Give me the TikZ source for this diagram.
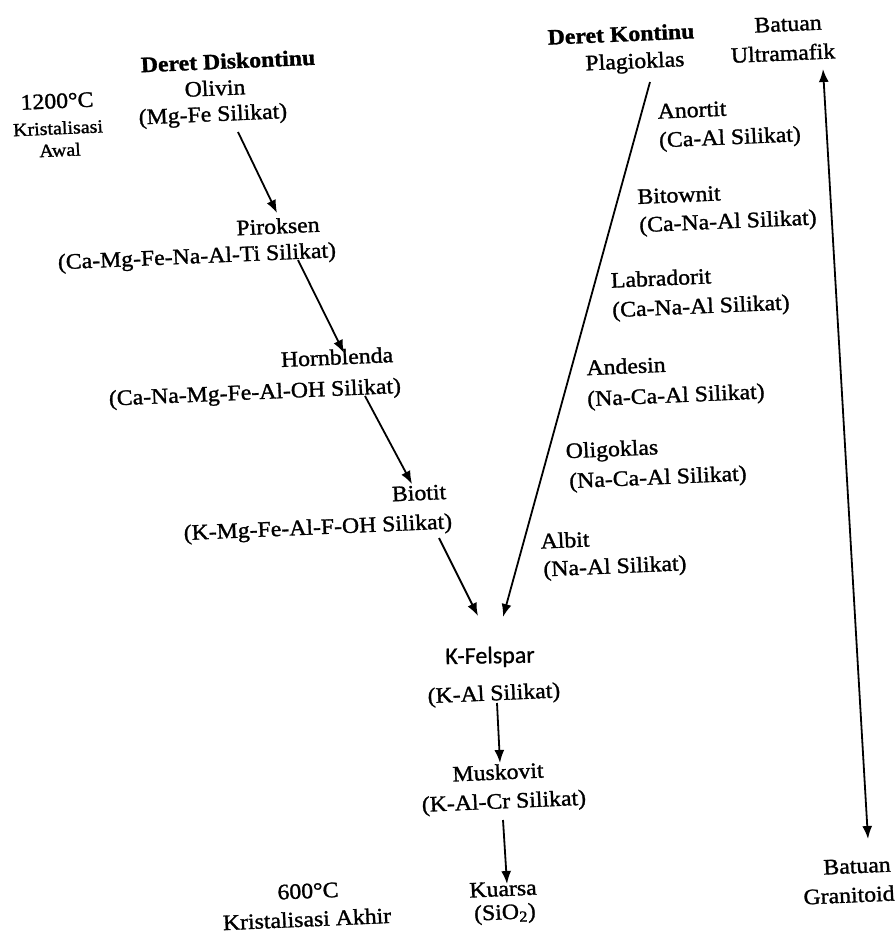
\documentclass[tikz,border=0pt]{standalone}
\usepackage{fontspec}
\setmainfont{Liberation Serif}[FakeBold=1.3, FakeStretch=1.08]
\newfontfamily\calib{Carlito}[FakeBold=0.8]
\usetikzlibrary{arrows.meta}
\begin{document}
\begin{tikzpicture}[x=1pt,y=-1pt,
  txt/.style={inner sep=0pt, font=\fontsize{22}{24}\selectfont, rotate=2.5},
  small/.style={inner sep=0pt, font=\fontsize{18.5}{20}\selectfont, rotate=2.5},
  ttl/.style={inner sep=0pt, font=\fontsize{22}{24}\selectfont\bfseries, rotate=2.5},
  sans/.style={inner sep=0pt, font=\fontsize{24}{26}\selectfont\calib, rotate=1},
  arr/.style={line width=1.8pt, -{Latex[length=13pt,width=10pt]}},
  darr/.style={line width=1.8pt, {Latex[length=13pt,width=10pt]}-{Latex[length=13pt,width=10pt]}}]
\useasboundingbox (0,0) rectangle (896,945);
\fill[white] (0,0) rectangle (896,945);

% left: temperature labels
\node[txt] (t1200) at (57,101) {1200°C};
\node[small] (kawal1) at (58,128) {Kristalisasi};
\node[small] (kawal2) at (60,150) {Awal};
\node[txt] (t600) at (308,891) {600°C};
\node[txt] (kakhir) at (307,919) {Kristalisasi Akhir};

% discontinuous series
\node[ttl] (deretD) at (228,61) {Deret Diskontinu};
\node[txt] (olivin) at (215,88) {Olivin};
\node[txt] (olivinf) at (213,116) {(Mg-Fe Silikat)};
\node[txt] (piroksen) at (278,226) {Piroksen};
\node[txt] (piroksenf) at (197,258) {(Ca-Mg-Fe-Na-Al-Ti Silikat)};
\node[txt] (hornblenda) at (337,357) {Hornblenda};
\node[txt] (hornblendaf) at (255,394) {(Ca-Na-Mg-Fe-Al-OH Silikat)};
\node[txt] (biotit) at (419,493) {Biotit};
\node[txt] (biotitf) at (318,529) {(K-Mg-Fe-Al-F-OH Silikat)};

% continuous series
\node[ttl] (deretK) at (621,34) {Deret Kontinu};
\node[txt] (plagioklas) at (635,63) {Plagioklas};
\node[txt] (anortit) at (692,110) {Anortit};
\node[txt] (anortitf) at (730,139) {(Ca-Al Silikat)};
\node[txt] (bitownit) at (679,195) {Bitownit};
\node[txt] (bitownitf) at (728,223) {(Ca-Na-Al Silikat)};
\node[txt] (labradorit) at (661,278) {Labradorit};
\node[txt] (labradoritf) at (701,308) {(Ca-Na-Al Silikat)};
\node[txt] (andesin) at (626,366) {Andesin};
\node[txt] (andesinf) at (676,397) {(Na-Ca-Al Silikat)};
\node[txt] (oligoklas) at (612,451) {Oligoklas};
\node[txt] (oligoklasf) at (658,479) {(Na-Ca-Al Silikat)};
\node[txt] (albit) at (565,540) {Albit};
\node[txt] (albitf) at (615,568) {(Na-Al Silikat)};

% bottom column
\node[sans] (kfelspar) at (490,657) {K-Felspar};
\node[txt] (kfelsparf) at (494,695) {(K-Al Silikat)};
\node[txt] (muskovit) at (498,772) {Muskovit};
\node[txt] (muskovitf) at (504,803) {(K-Al-Cr Silikat)};
\node[txt] (kuarsa) at (503,889) {Kuarsa};
\node[txt] (kuarsaf) at (505,914) {(SiO\textsubscript{2})};

% rock types
\node[txt] (batuanU) at (788,24) {Batuan};
\node[txt] (ultramafik) at (783,53) {Ultramafik};
\node[txt] (batuanG) at (857,866) {Batuan};
\node[txt] (granitoid) at (849,895) {Granitoid};

% arrow end coordinates
\coordinate (a1s) at (238,132);  \coordinate (a1e) at (277,213);
\coordinate (a2s) at (298,260);  \coordinate (a2e) at (344,353);
\coordinate (a3s) at (365,396);  \coordinate (a3e) at (412,484);
\coordinate (a4s) at (439,538);  \coordinate (a4e) at (478,616);
\coordinate (ps) at (650,82);    \coordinate (pe) at (503,617);
\coordinate (a5s) at (497,703);  \coordinate (a5e) at (500,763);
\coordinate (a6s) at (503,820);  \coordinate (a6e) at (507,884);
\coordinate (rt) at (823,69);    \coordinate (rb) at (868,839);

\draw[arr] (a1s) -- (a1e);
\draw[arr] (a2s) -- (a2e);
\draw[arr] (a3s) -- (a3e);
\draw[arr] (a4s) -- (a4e);
\draw[arr] (ps) -- (pe);
\draw[arr] (a5s) -- (a5e);
\draw[arr] (a6s) -- (a6e);
\draw[darr] (rt) -- (rb);
\end{tikzpicture}
\end{document}
